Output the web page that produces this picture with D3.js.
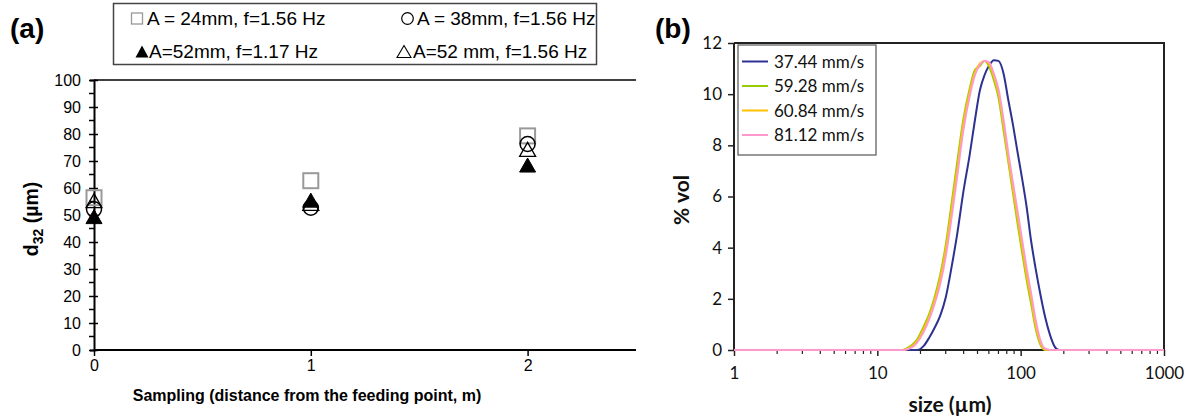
<!DOCTYPE html>
<html><head><meta charset="utf-8">
<script src="https://cdn.jsdelivr.net/npm/d3@7"></script>
<style>
html,body{margin:0;padding:0;background:#fff;}
svg{display:block;}
</style></head>
<body>
<svg id="c" width="1192" height="418"></svg>
<script>
// ---------- Panel (a) data ----------
const distA = [0, 1, 2];
const sq24 = [56.4, 62.7, 79.3];
const circ38 = [52.1, 52.7, 76.3];
const triOpen52 = [55.3, 54.3, 74.3];
const triFilled52 = [49.4, 55.5, 68.5];
const yTicksA = [0, 10, 20, 30, 40, 50, 60, 70, 80, 90, 100];
const xTicksA = [0, 1, 2];
const legendA = ["A = 24mm, f=1.56 Hz", "A = 38mm, f=1.56 Hz", "A=52mm, f=1.17 Hz", "A=52 mm, f=1.56 Hz"];

// ---------- Panel (b) data ----------
const sizeB = [1, 15, 17, 19, 21, 23, 25, 27.5, 30, 33, 36, 40, 44, 48, 52, 56, 60, 65, 70, 76, 82, 88, 95, 102, 110, 118, 127, 137, 148, 160, 172, 185, 200, 1000];
const v3744 = [0, 0, 0, 0, 0.15, 0.48, 0.85, 1.35, 2.05, 3.26, 4.5, 6.25, 7.6, 9.0, 10.16, 10.75, 11.1, 11.33, 11.3, 10.8, 9.77, 8.86, 7.75, 6.75, 5.6, 4.3, 3.2, 2.2, 1.3, 0.6, 0.15, 0, 0, 0];
const v5928 = [0, 0, 0.15, 0.42, 0.9, 1.4, 2.03, 2.95, 4.1, 5.75, 7.3, 9.08, 10.19, 10.95, 11.1, 11.3, 11.11, 10.55, 9.88, 8.57, 7.35, 6.2, 4.96, 3.87, 2.75, 1.83, 0.86, 0.22, 0, 0, 0, 0, 0, 0];
const v6084 = [0, 0, 0.1, 0.35, 0.8, 1.3, 1.9, 2.8, 3.9, 5.5, 7.0, 8.9, 10.05, 10.85, 11.2, 11.3, 11.2, 10.7, 10.05, 8.8, 7.5, 6.4, 5.2, 4.1, 2.95, 2.05, 1.0, 0.3, 0.02, 0, 0, 0, 0, 0];
const v8112 = [0, 0, 0.07, 0.3, 0.7, 1.2, 1.78, 2.6, 3.65, 5.2, 6.75, 8.65, 9.9, 10.75, 11.15, 11.3, 11.25, 10.8, 10.2, 9.0, 7.7, 6.6, 5.45, 4.35, 3.2, 2.25, 1.2, 0.4, 0.05, 0, 0, 0, 0, 0];
const seriesNamesB = ["37.44 mm/s", "59.28 mm/s", "60.84 mm/s", "81.12 mm/s"];
const seriesColorsB = ["#2e3192", "#99cc00", "#ffc000", "#ff99cc"];
const yTicksB = [0, 2, 4, 6, 8, 10, 12];
const xTicksB = [1, 10, 100, 1000];

const svg = d3.select("#c");
const AR = "'Liberation Sans', Arial, sans-serif";
const CAL = "Lato, 'Open Sans', sans-serif";

// ================= Panel (a) =================
const xA = d3.scaleLinear().domain([0, 2.5]).range([94, 636]);
const yA = d3.scaleLinear().domain([0, 100]).range([350, 80]);

const gA = svg.append("g");
gA.append("line").attr("x1", xA(0)).attr("x2", xA(2.5)).attr("y1", yA(100)).attr("y2", yA(100))
  .attr("stroke", "#000").attr("stroke-width", 1.5);

const yAxA = d3.axisLeft(yA).tickValues(yTicksA).tickSize(4).tickPadding(6);
const gyA = gA.append("g").attr("transform", `translate(${xA(0)},0)`).call(yAxA);
gyA.select(".domain").attr("stroke-width", 2);
gyA.selectAll(".tick line").attr("x2", -5).attr("x1", 4).attr("stroke-width", 1.5);
gyA.selectAll(".tick text").attr("font-family", AR).attr("font-size", 16).attr("fill", "#000").attr("x", -13);
const minorA = d3.range(5, 100, 10);
gyA.selectAll(".minor").data(minorA).enter().append("line").attr("class", "minor")
  .attr("x1", -5).attr("x2", 0).attr("y1", d => yA(d)).attr("y2", d => yA(d))
  .attr("stroke", "#000").attr("stroke-width", 1.5);

const xAxA = d3.axisBottom(xA).tickValues(xTicksA).tickSize(6).tickPadding(4).tickFormat(d3.format("d"));
const gxA = gA.append("g").attr("transform", `translate(0,${yA(0)})`).call(xAxA);
gxA.select(".domain").attr("stroke-width", 2).attr("d", `M${xA(0)},0H${xA(2.5)}`);
gxA.selectAll(".tick line").attr("stroke-width", 1.5);
gxA.selectAll(".tick text").attr("font-family", AR).attr("font-size", 16).attr("fill", "#000");

gA.append("text").attr("x", 307).attr("y", 401).attr("text-anchor", "middle")
  .attr("font-family", AR).attr("font-weight", "bold").attr("font-size", 16)
  .text("Sampling (distance from the feeding point, m)");
const yt = gA.append("text").attr("transform", "translate(38,219) rotate(-90)").attr("text-anchor", "middle")
  .attr("font-family", AR).attr("font-weight", "bold").attr("font-size", 19.5);
yt.append("tspan").text("d");
yt.append("tspan").attr("font-size", 14).attr("dy", 5).text("32");
yt.append("tspan").attr("dy", -5).text(" (µm)");

function triPath(cx, cy, w, h) {
  return `M${cx},${cy - h / 2}L${cx + w / 2},${cy + h / 2}L${cx - w / 2},${cy + h / 2}Z`;
}
gA.selectAll(".sq").data(distA).enter().append("rect")
  .attr("x", (d) => xA(d) - 7.5).attr("y", (d, i) => yA(sq24[i]) - 7.5)
  .attr("width", 15).attr("height", 15).attr("fill", "none").attr("stroke", "#999").attr("stroke-width", 2);
gA.selectAll(".ci").data(distA).enter().append("circle")
  .attr("cx", d => xA(d)).attr("cy", (d, i) => yA(circ38[i])).attr("r", 7.5)
  .attr("fill", "none").attr("stroke", "#000").attr("stroke-width", 1.5);
gA.selectAll(".to").data(distA).enter().append("path")
  .attr("d", (d, i) => triPath(xA(d), yA(triOpen52[i]), 16, 14))
  .attr("fill", "none").attr("stroke", "#000").attr("stroke-width", 1.3);
gA.selectAll(".tf").data(distA).enter().append("path")
  .attr("d", (d, i) => triPath(xA(d), yA(triFilled52[i]), 16, 14))
  .attr("fill", "#000").attr("stroke", "#000").attr("stroke-width", 1);

// legend (a)
const lgA = svg.append("g");
lgA.append("rect").attr("x", 113.5).attr("y", 3.5).attr("width", 483).attr("height", 61)
  .attr("fill", "#fff").attr("stroke", "#444").attr("stroke-width", 1.5);
const lgItems = [
  {x: 137, y: 18.5, tx: 147, t: legendA[0], k: "sq"},
  {x: 407.5, y: 18.5, tx: 417, t: legendA[1], k: "ci"},
  {x: 142, y: 51.5, tx: 149, t: legendA[2], k: "tf"},
  {x: 404, y: 51.5, tx: 413, t: legendA[3], k: "to"}
];
lgItems.forEach(it => {
  if (it.k === "sq") lgA.append("rect").attr("x", it.x - 5.5).attr("y", it.y - 5.5).attr("width", 11).attr("height", 11)
    .attr("fill", "none").attr("stroke", "#999").attr("stroke-width", 1.3);
  if (it.k === "ci") lgA.append("circle").attr("cx", it.x).attr("cy", it.y).attr("r", 5.8)
    .attr("fill", "none").attr("stroke", "#000").attr("stroke-width", 1.2);
  if (it.k === "tf") lgA.append("path").attr("d", triPath(it.x, it.y, 13, 12)).attr("fill", "#000");
  if (it.k === "to") lgA.append("path").attr("d", triPath(it.x, it.y, 14, 12)).attr("fill", "none")
    .attr("stroke", "#000").attr("stroke-width", 1.1);
  lgA.append("text").attr("x", it.tx).attr("y", it.y + 6.8).attr("font-family", AR).attr("font-size", 19)
    .attr("fill", "#000").text(it.t);
});

svg.append("text").attr("x", 10).attr("y", 38).attr("font-family", AR).attr("font-weight", "bold")
  .attr("font-size", 28).text("(a)");
svg.append("text").attr("x", 655).attr("y", 38).attr("font-family", AR).attr("font-weight", "bold")
  .attr("font-size", 28).text("(b)");

// ================= Panel (b) =================
const xB = d3.scaleLog().domain([1, 1000]).range([734, 1164]);
const yB = d3.scaleLinear().domain([0, 12]).range([350, 43]);
const gB = svg.append("g");

gB.append("path").attr("d", `M${xB(1)},${yB(12)}H${xB(1000)}V${yB(0)}`)
  .attr("fill", "none").attr("stroke", "#222").attr("stroke-width", 2);

const minorB = [];
[1, 10, 100].forEach(dec => { for (let k = 2; k <= 9; k++) minorB.push(dec * k); });
const gxB = gB.append("g").attr("transform", `translate(0,${yB(0)})`)
  .call(d3.axisBottom(xB).tickValues(xTicksB).tickSize(6).tickPadding(11).tickFormat(d3.format("d")));
gxB.select(".domain").attr("stroke", "#222").attr("stroke-width", 2).attr("d", `M${xB(1)},0H${xB(1000)}`);
gxB.selectAll(".tick line").attr("stroke", "#222").attr("stroke-width", 1.5);
gxB.selectAll(".tick text").attr("font-family", CAL).attr("font-size", 17).attr("fill", "#111");
gxB.selectAll(".minor").data(minorB).enter().append("line")
  .attr("x1", d => xB(d)).attr("x2", d => xB(d)).attr("y1", 0).attr("y2", 4)
  .attr("stroke", "#222").attr("stroke-width", 1.2);

const gyB = gB.append("g").attr("transform", `translate(${xB(1)},0)`)
  .call(d3.axisLeft(yB).tickValues(yTicksB).tickSize(6).tickPadding(6));
gyB.select(".domain").attr("stroke", "#222").attr("stroke-width", 2).attr("d", `M0,${yB(0)}V${yB(12)}`);
gyB.selectAll(".tick line").attr("stroke", "#222").attr("stroke-width", 1.5);
gyB.selectAll(".tick text").attr("font-family", CAL).attr("font-size", 17).attr("fill", "#111");

const allSeries = [v3744, v5928, v6084, v8112];
const line = d3.line().x((d, i) => xB(sizeB[i])).y(d => yB(d)).curve(d3.curveMonotoneX);
allSeries.forEach((vals, si) => {
  gB.append("path").datum(vals).attr("d", line).attr("fill", "none")
    .attr("stroke", seriesColorsB[si]).attr("stroke-width", 2);
});

gB.append("text").attr("x", 950).attr("y", 412).attr("text-anchor", "middle")
  .attr("font-family", CAL).attr("font-weight", "bold").attr("font-size", 21).attr("fill", "#111").text("size (µm)");
gB.append("text").attr("transform", "translate(689,200) rotate(-90)").attr("text-anchor", "middle")
  .attr("font-family", CAL).attr("font-weight", "bold").attr("font-size", 21).attr("fill", "#111").text("% vol");

const lgB = svg.append("g");
lgB.append("rect").attr("x", 738).attr("y", 45).attr("width", 138).attr("height", 110)
  .attr("fill", "#fff").attr("stroke", "#555").attr("stroke-width", 1.2);
seriesNamesB.forEach((n, i) => {
  const y = 61.5 + i * 24.5;
  lgB.append("line").attr("x1", 742).attr("x2", 768).attr("y1", y).attr("y2", y)
    .attr("stroke", seriesColorsB[i]).attr("stroke-width", 2);
  lgB.append("text").attr("x", 774).attr("y", y + 6).attr("font-family", CAL).attr("font-size", 17)
    .attr("fill", "#111").text(n);
});
</script>
</body></html>
